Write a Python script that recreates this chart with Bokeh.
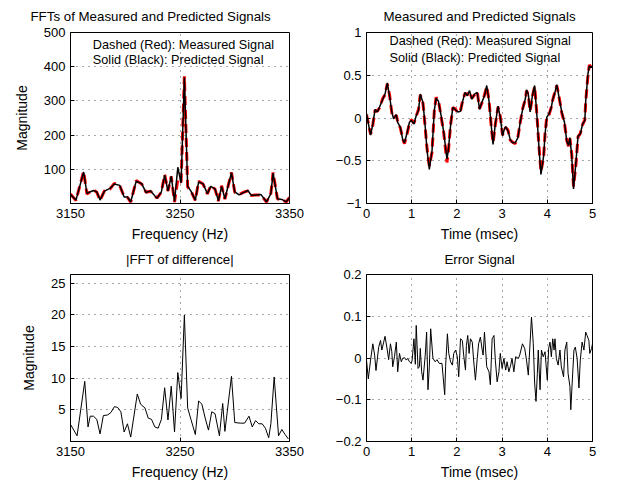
from bokeh.plotting import figure
from bokeh.layouts import column, row
from bokeh.models import FixedTicker, Label, CustomJSTickFormatter, Title
from bokeh.embed import file_html
from bokeh.resources import INLINE

# ---------------- data ----------------
fft_freq = [3150, 3155, 3162, 3165, 3171, 3174, 3177, 3181, 3186, 3190,
            3195, 3199, 3202, 3205, 3210, 3215, 3219, 3223, 3229, 3233,
            3236, 3239, 3242, 3245, 3248, 3251, 3254, 3257, 3260, 3264,
            3267, 3271, 3275, 3278, 3282, 3285, 3288, 3291, 3297, 3300,
            3304, 3308, 3312, 3315, 3318, 3324, 3329, 3333, 3335, 3339,
            3343, 3347, 3350]
fft_measured = [28, 9, 94, 28, 40, 33, 9, 37, 42, 59,
                52, 20, 18, 4, 67, 57, 33, 36, 16, 33,
                85, 37, 79, 4, 70, 62, 372, 48, 37, 9,
                65, 57, 28, 52, 42, 7, 52, 13, 91, 33,
                26, 33, 37, 23, 25, 25, 4, 30, 91, 13,
                13, 4, 18]
fft_predicted = [26, 10, 92, 30, 38, 34, 10, 36, 44, 57,
                 53, 19, 19, 5, 65, 58, 32, 37, 15, 34,
                 83, 36, 80, 6, 106, 60, 368, 50, 36, 10,
                 63, 58, 29, 50, 43, 8, 50, 14, 90, 34,
                 25, 32, 38, 24, 24, 26, 5, 29, 89, 14,
                 12, 5, 17]

diff_freq = [3150, 3156, 3163, 3166, 3168, 3171, 3174, 3177, 3180, 3184,
             3187, 3190, 3193, 3196, 3199, 3202, 3205, 3211, 3214, 3218,
             3221, 3224, 3227, 3230, 3233, 3236, 3239, 3242, 3245, 3248,
             3251, 3254, 3257, 3260, 3264, 3267, 3270, 3273, 3276, 3279,
             3282, 3286, 3289, 3291, 3297, 3300, 3305, 3309, 3313, 3316,
             3319, 3322, 3325, 3328, 3331, 3333, 3336, 3340, 3343, 3346,
             3349]
diff_mag = [2.7, 0.9, 9.5, 2.3, 4.0, 4.0, 3.5, 1.2, 4.1, 4.2,
            4.6, 5.5, 5.4, 4.7, 1.5, 2.8, 0.7, 7.5, 5.9, 5.3,
            3.7, 3.5, 2.3, 2.1, 3.5, 8.5, 3.4, 8.75, 1.5, 10.9,
            6.8, 20.0, 5.3, 3.5, 1.1, 6.4, 5.9, 3.7, 1.8, 4.7,
            4.4, 0.9, 6.0, 1.6, 10.3, 3.0, 2.9, 2.9, 4.0, 2.3,
            3.3, 2.8, 2.8, 2.1, 0.6, 2.8, 10.2, 0.9, 1.9, 1.1,
            0.4]

sig_time = [0.00, 0.09, 0.14, 0.19, 0.24, 0.29, 0.36, 0.41, 0.46, 0.51,
            0.56, 0.60, 0.66, 0.69, 0.75, 0.80, 0.84, 0.90, 0.95, 0.99,
            1.05, 1.10, 1.15, 1.19, 1.25, 1.30, 1.34, 1.39, 1.45, 1.50,
            1.54, 1.59, 1.65, 1.71, 1.78, 1.81, 1.86, 1.91, 1.96, 2.02,
            2.08, 2.13, 2.18, 2.23, 2.28, 2.33, 2.39, 2.45, 2.50, 2.55,
            2.61, 2.66, 2.71, 2.76, 2.80, 2.85, 2.91, 2.96, 3.01, 3.05,
            3.08, 3.13, 3.18, 3.23, 3.29, 3.35, 3.40, 3.45, 3.52, 3.54,
            3.58, 3.62, 3.67, 3.72, 3.77, 3.82, 3.86, 3.92, 3.95, 3.99,
            4.04, 4.09, 4.12, 4.16, 4.21, 4.26, 4.32, 4.38, 4.43, 4.47,
            4.50, 4.54, 4.58, 4.63, 4.68, 4.73, 4.78, 4.83, 4.85, 4.90,
            4.93, 5.00]
sig_predicted = [0.05, -0.20, -0.07, 0.10, 0.07, 0.13, 0.22, 0.28, 0.41, 0.26,
                 0.07, -0.01, 0.04, -0.05, -0.11, -0.25, -0.29, -0.17, -0.05, -0.03,
                 -0.07, 0.03, 0.09, 0.28, 0.18, -0.11, -0.38, -0.60, -0.38, 0.09,
                 0.23, 0.20, 0.03, -0.17, -0.48, -0.38, -0.09, 0.125, 0.10, 0.07,
                 0.08, 0.20, 0.30, 0.26, 0.32, 0.22, 0.28, 0.30, 0.10, 0.18,
                 0.26, 0.38, 0.20, -0.09, -0.31, -0.07, 0.14, 0.01, -0.21, -0.13,
                 -0.10, -0.15, -0.25, -0.29, -0.29, -0.23, -0.05, 0.09, 0.24, 0.33,
                 0.28, 0.07, 0.26, 0.38, 0.03, -0.38, -0.66, -0.44, -0.19, 0.01,
                 0.05, 0.125, 0.22, 0.28, 0.39, 0.24, 0.07, -0.05, -0.27, -0.32,
                 -0.23, -0.44, -0.83, -0.54, -0.21, -0.19, -0.07, -0.03, 0.20, 0.52,
                 0.61, 0.59]
sig_measured = [0.04, -0.19, -0.08, 0.09, 0.08, 0.12, 0.23, 0.27, 0.40, 0.27,
                0.06, 0.00, 0.03, -0.04, -0.12, -0.24, -0.30, -0.18, -0.06, -0.02,
                -0.06, 0.02, 0.10, 0.27, 0.17, -0.12, -0.36, -0.56, -0.40, 0.08,
                0.24, 0.21, 0.02, -0.18, -0.52, -0.40, -0.08, 0.12, 0.11, 0.06,
                0.09, 0.21, 0.29, 0.27, 0.31, 0.23, 0.27, 0.31, 0.11, 0.17,
                0.27, 0.37, 0.21, -0.10, -0.29, -0.08, 0.13, 0.02, -0.20, -0.14,
                -0.11, -0.14, -0.26, -0.28, -0.30, -0.22, -0.06, 0.10, 0.23, 0.32,
                0.27, 0.08, 0.25, 0.37, 0.04, -0.36, -0.63, -0.45, -0.18, 0.02,
                0.04, 0.13, 0.21, 0.29, 0.38, 0.25, 0.06, -0.06, -0.26, -0.33,
                -0.24, -0.42, -0.80, -0.56, -0.22, -0.18, -0.08, -0.02, 0.19, 0.50,
                0.62, 0.58]

err_time = [0.00, 0.04, 0.09, 0.14, 0.18, 0.21, 0.27, 0.31, 0.34, 0.38,
            0.41, 0.46, 0.49, 0.53, 0.56, 0.58, 0.62, 0.66, 0.69, 0.73,
            0.77, 0.80, 0.84, 0.88, 0.91, 0.95, 0.99, 1.01, 1.05, 1.08,
            1.10, 1.14, 1.17, 1.19, 1.22, 1.25, 1.30, 1.33, 1.36, 1.39,
            1.42, 1.47, 1.52, 1.56, 1.61, 1.67, 1.73, 1.75, 1.79, 1.82,
            1.86, 1.90, 1.93, 1.97, 2.01, 2.04, 2.08, 2.12, 2.15, 2.19,
            2.21, 2.24, 2.27, 2.30, 2.34, 2.37, 2.41, 2.45, 2.48, 2.52,
            2.56, 2.58, 2.61, 2.66, 2.71, 2.74, 2.78, 2.82, 2.85, 2.89,
            2.93, 2.96, 3.00, 3.04, 3.08, 3.11, 3.15, 3.19, 3.22, 3.26,
            3.30, 3.36, 3.39, 3.45, 3.50, 3.54, 3.58, 3.61, 3.65, 3.69,
            3.72, 3.75, 3.78, 3.80, 3.84, 3.87, 3.91, 3.95, 3.97, 4.00,
            4.03, 4.06, 4.09, 4.12, 4.15, 4.17, 4.20, 4.24, 4.28, 4.31,
            4.36, 4.39, 4.43, 4.46, 4.50, 4.52, 4.55, 4.59, 4.62, 4.66,
            4.70, 4.73, 4.77, 4.81, 4.85, 4.88, 4.92, 4.94, 4.98, 5.00]
err_value = [-0.005, -0.050, -0.005, 0.034, 0.007, -0.030, 0.026, 0.042, 0.019, 0.038,
             0.052, 0.019, -0.004, 0.034, 0.015, -0.021, 0.004, 0.038, -0.033, 0.011,
             -0.009, -0.001, 0.001, -0.005, -0.001, -0.009, -0.013, -0.005, 0.046, -0.015,
             0.078, -0.025, -0.021, 0.023, -0.033, -0.053, 0.007, 0.062, -0.076, -0.021,
             0.070, -0.001, -0.009, -0.004, -0.013, -0.013, -0.088, -0.021, 0.058, 0.011,
             -0.009, -0.017, 0.011, 0.019, 0.003, -0.045, 0.046, 0.042, 0.007, -0.029,
             0.030, 0.054, 0.011, 0.046, 0.038, -0.005, -0.053, -0.001, 0.034, 0.050,
             0.019, 0.007, 0.062, -0.021, -0.033, -0.064, 0.046, 0.054, -0.005, -0.057,
             -0.033, 0.011, -0.025, -0.001, -0.029, -0.009, -0.033, -0.017, -0.001, -0.033,
             0.003, -0.001, 0.007, 0.034, 0.023, -0.005, -0.041, 0.019, 0.098, 0.034,
             -0.060, -0.104, -0.037, 0.019, -0.076, 0.019, 0.003, 0.015, -0.013, -0.053,
             0.023, 0.038, 0.003, 0.046, 0.019, 0.046, -0.001, -0.017, 0.019, -0.021,
             -0.045, 0.019, 0.038, -0.037, -0.068, -0.124, -0.060, 0.019, 0.026, -0.001,
             -0.072, -0.005, 0.038, 0.019, 0.062, 0.054, 0.042, 0.011, 0.023, 0.034]

freq_ticks = [3150, 3250, 3350]
fft_ticks = [100, 200, 300, 400, 500]
diff_ticks = [5, 10, 15, 20, 25]
time_ticks = [0, 1, 2, 3, 4, 5]
sig_ticks = [-1, -0.5, 0, 0.5, 1]
err_ticks = [-0.2, -0.1, 0, 0.1, 0.2]

# ---------------- styling helpers ----------------
FONT = "Liberation Sans"
FS = "13px"
LABEL_FS = "14px"
fmt = CustomJSTickFormatter(code="return tick < 0 ? '\\u2212' + String(Math.abs(tick)) : String(tick);")


def make_fig(w, h, xr, yr, xt, yt, title, xlabel, ylabel, borders, title_standoff,
             title_align="center", title_offset=0):
    p = figure(width=w, height=h, x_range=xr, y_range=yr, output_backend="svg",
               toolbar_location=None, tools="",
               min_border_left=borders[0], min_border_right=borders[1],
               min_border_top=borders[2], min_border_bottom=borders[3])
    p.title = Title(text=title, align=title_align, offset=title_offset,
                    text_font=FONT, text_font_size="13.3px", text_font_style="normal",
                    text_color="black", standoff=title_standoff, vertical_align="top")
    p.outline_line_color = "black"
    p.outline_line_width = 1
    p.background_fill_color = "white"
    p.border_fill_color = "white"
    for ax, ticks in ((p.xaxis[0], xt), (p.yaxis[0], yt)):
        ax.ticker = FixedTicker(ticks=ticks)
        ax.formatter = fmt
        ax.major_tick_in = 4
        ax.major_tick_out = 0
        ax.minor_tick_line_color = None
        ax.axis_line_color = "black"
        ax.major_tick_line_color = "black"
        ax.major_label_text_font = FONT
        ax.major_label_text_font_size = FS
        ax.major_label_text_color = "black"
        ax.axis_label_text_font = FONT
        ax.axis_label_text_font_size = LABEL_FS
        ax.axis_label_text_font_style = "normal"
        ax.axis_label_text_color = "black"
    p.xaxis[0].major_label_standoff = 5
    p.xaxis[0].axis_label_standoff = 5
    p.yaxis[0].major_label_standoff = 5
    p.yaxis[0].axis_label_standoff = 11
    if xlabel:
        p.xaxis[0].axis_label = xlabel
    if ylabel:
        p.yaxis[0].axis_label = ylabel
    p.xgrid[0].ticker = FixedTicker(ticks=xt)
    p.ygrid[0].ticker = FixedTicker(ticks=yt)
    for g in (p.xgrid[0], p.ygrid[0]):
        g.grid_line_color = "#222222"
        g.grid_line_dash = "1 5"
        g.grid_line_width = 1
        g.grid_line_alpha = 0.8
    return p


# ---------------- top-left: FFTs ----------------
p1 = make_fig(320, 244, (3150, 3350), (0, 500), freq_ticks, fft_ticks,
              "FFTs of Measured and Predicted Signals", "Frequency (Hz)", "Magnitude",
              (70, 31, 32, 41), 14, title_align="left", title_offset=-40)
p1.line(fft_freq, fft_measured, line_color="#ff0000", line_width=3, line_dash="9 5")
p1.line(fft_freq, fft_predicted, line_color="black", line_width=1.5)
p1.add_layout(Label(x=3170.4, y=462, text="Dashed (Red): Measured Signal", text_font=FONT,
                    text_font_size="12.7px", text_baseline="middle", text_color="black"))
p1.add_layout(Label(x=3170.4, y=421, text="Solid (Black): Predicted Signal", text_font=FONT,
                    text_font_size="12.7px", text_baseline="middle", text_color="black"))

# ---------------- top-right: signals ----------------
p2 = make_fig(301, 244, (0, 5), (-1, 1), time_ticks, sig_ticks,
              "Measured and Predicted Signals", "Time (msec)", None,
              (46, 29, 32, 41), 14)
p2.line(sig_time, sig_measured, line_color="#ff0000", line_width=3, line_dash="9 5")
p2.line(sig_time, sig_predicted, line_color="black", line_width=1.5)
p2.add_layout(Label(x=0.51, y=0.90, text="Dashed (Red): Measured Signal", text_font=FONT,
                    text_font_size="12.7px", text_baseline="middle", text_color="black"))
p2.add_layout(Label(x=0.51, y=0.70, text="Solid (Black): Predicted Signal", text_font=FONT,
                    text_font_size="12.7px", text_baseline="middle", text_color="black"))

# ---------------- bottom-left: |FFT of difference| ----------------
p3 = make_fig(320, 242, (3150, 3350), (0, 26.4), freq_ticks, diff_ticks,
              "|FFT of difference|", "Frequency (Hz)", "Magnitude",
              (70, 31, 30, 45), 12)
p3.line(diff_freq, diff_mag, line_color="black", line_width=1)

# ---------------- bottom-right: error ----------------
p4 = make_fig(301, 242, (0, 5), (-0.2, 0.2), time_ticks, err_ticks,
              "Error Signal", "Time (msec)", None,
              (46, 29, 30, 45), 12)
p4.line(err_time, err_value, line_color="black", line_width=1)

layout = column(row(p1, p2, spacing=0), row(p3, p4, spacing=0), spacing=0)
open("out.html", "w").write(file_html(layout, INLINE))
